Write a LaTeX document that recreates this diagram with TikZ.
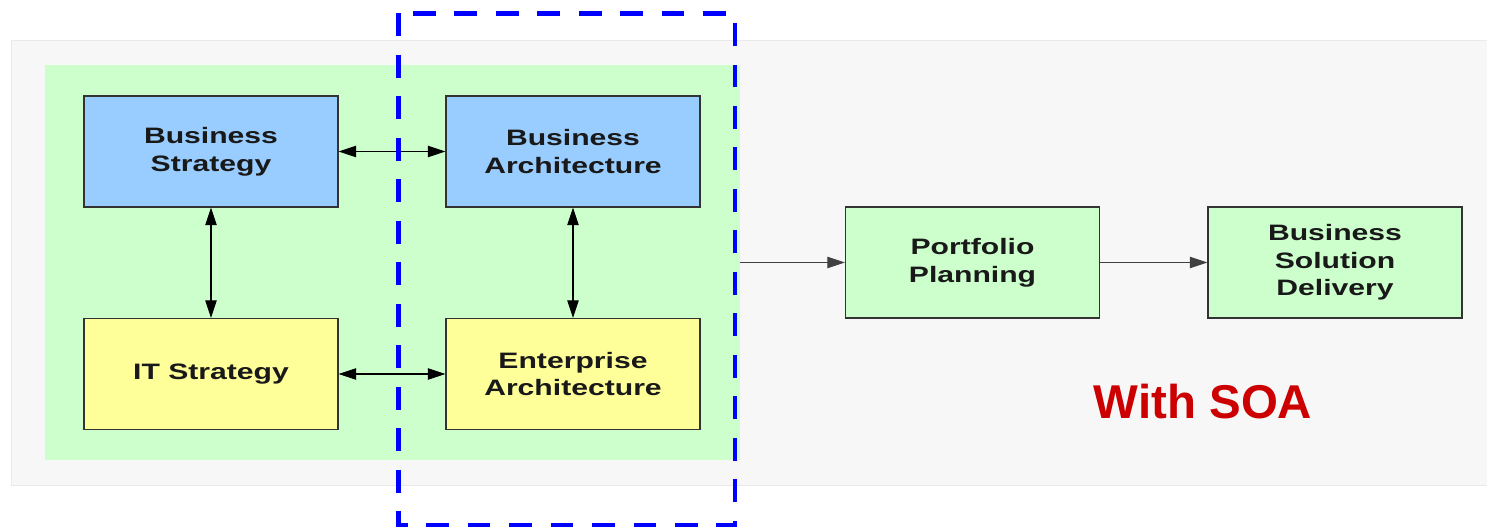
\documentclass[tikz,border=0pt]{standalone}
\usepackage{fontspec}
\setmainfont{Liberation Sans}
\newfontfamily\boxfont[FakeStretch=1.35]{Liberation Sans}
\usepackage{tikz}
\usetikzlibrary{arrows.meta}
\usepackage{xcolor}

\definecolor{bggray}{HTML}{F7F7F7}
\definecolor{bgedge}{HTML}{EAEAEA}
\definecolor{panelgreen}{HTML}{CCFFCC}
\definecolor{stratblue}{HTML}{99CCFF}
\definecolor{itsyellow}{HTML}{FFFF99}
\definecolor{soared}{HTML}{CC0000}
\definecolor{dashblue}{HTML}{0000FF}

\tikzset{
  box/.style={draw=black!80, line width=0.6pt, minimum width=5.08cm, minimum height=2.22cm,
    align=center, text=black!90, font=\boxfont\bfseries\fontsize{12.7}{15.7}\selectfont},
  link/.style={line width=0.6pt, {Triangle[length=10pt,width=6.5pt]}-{Triangle[length=10pt,width=6.5pt]}},
  flow/.style={line width=0.6pt, draw=black!75, -{Triangle[length=10pt,width=6.5pt]}}
}

\begin{document}
\begin{tikzpicture}
  \useasboundingbox (0,0) rectangle (29.74,10.56);

  % background
  \draw[fill=bggray, draw=bgedge] (0.23,0.86) rectangle (29.74,9.76);
  \node[fill=panelgreen, minimum width=13.91cm, minimum height=7.9cm, inner sep=0pt] (panel) at (7.845, 5.31) {};

  \node[box, fill=stratblue] (bs) at (4.22, 7.53) {Business\\Strategy};
  \node[box, fill=stratblue] (ba) at (11.46, 7.53) {Business\\Architecture};
  \node[box, fill=itsyellow] (its) at (4.22, 3.08) {IT Strategy};
  \node[box, fill=itsyellow] (ea) at (11.46, 3.08) {Enterprise\\Architecture};
  \node[box, fill=panelgreen] (pp) at (19.45, 5.31) {Portfolio\\Planning};
  \node[box, fill=panelgreen] (bsd) at (26.7, 5.31) {Business\\Solution\\Delivery};

  \draw[link] (bs) -- (ba);
  \draw[link] (its) -- (ea);
  \draw[link] (bs) -- (its);
  \draw[link] (ba) -- (ea);
  \draw[flow] (panel.east |- pp.west) -- (pp);
  \draw[flow] (pp) -- (bsd);

  \node[text=soared, font=\bfseries\fontsize{27}{32}\selectfont] (soa) at (24.06, 2.52) {With SOA};

  % scope of the change
  \draw[dashblue, line width=2.8pt, dash pattern=on 13pt off 10.6pt] (7.97,10.29) rectangle (14.7,0.06);
\end{tikzpicture}
\end{document}
